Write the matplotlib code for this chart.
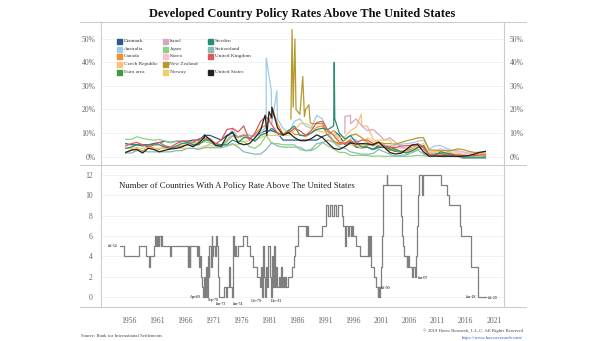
import numpy as np
import matplotlib
matplotlib.use("Agg")
from matplotlib import pyplot as plt
from matplotlib.lines import Line2D

plt.rcParams['font.family'] = ['Liberation Serif', 'DejaVu Serif']

# ---- top panel: policy rates (%), annual readings, own start year per country
denmark_start = 1955
denmark = [5.5, 5.0, 5.0, 5.0, 5.0, 5.5, 6.0, 6.5, 6.0, 6.5, 6.5, 6.5, 7.0, 7.0, 9.0, 9.0, 8.0, 7.0, 9.0, 10.0,
           8.0, 9.0, 9.0, 8.5, 10.0, 11.0, 11.0, 10.0, 7.0, 7.0, 7.0, 7.0, 7.0, 7.0, 7.0, 8.5, 9.5, 11.0, 9.0, 5.0,
           6.0, 4.0, 3.7, 4.0, 3.0, 4.8, 4.0, 3.0, 2.2, 2.0, 2.2, 3.2, 4.0, 4.5, 1.5, 1.0, 0.8, 0.2, 0.2, 0.2,
           -0.6, -0.65, -0.65, -0.65, -0.7]
australia_start = 1969
australia = [4.0, 5.5, 5.5, 4.0, 6.0, 12.0, 8.0, 8.5, 9.0, 8.5, 9.5, 13.0, 14.0, 16.0, 12.0, 10.0, 15.0, 16.0,
             13.0, 12.0, 17.5, 16.0, 10.5, 6.5, 5.0, 5.5, 7.5, 7.0, 5.0, 4.8, 4.8, 6.0, 4.8, 4.5, 4.8, 5.25,
             5.5, 5.8, 6.5, 7.0, 3.2, 4.5, 4.75, 3.5, 2.75, 2.5, 2.0, 1.5, 1.5, 1.5, 1.0]
australia_spike_years = [1980.5, 1981.4, 1982.4]
australia_spike_rates = [42.0, 28.0, 28.0]
canada_start = 1955
canada = [1.5, 2.8, 3.8, 2.0, 4.5, 3.5, 3.0, 4.5, 3.8, 4.0, 4.5, 5.0, 4.5, 6.5, 7.5, 6.5, 5.0, 4.75, 6.5, 8.75,
          8.5, 9.25, 7.5, 9.5, 12.0, 13.5, 17.5, 14.0, 9.5, 11.3, 9.5, 9.2, 8.4, 10.0, 12.5, 13.0, 9.0, 6.5,
          5.0, 5.8, 7.0, 4.5, 3.5, 5.0, 5.0, 5.8, 4.0, 2.5, 3.0, 2.3, 2.7, 4.2, 4.5, 3.0, 0.3, 0.6, 1.0, 1.0,
          1.0, 1.0, 0.6, 0.5, 0.8, 1.5, 1.75]
canada_spike_years = [1981.6]
canada_spike_rates = [20.5]
czech_start = 1992
czech = [9.5, 8.0, 8.5, 11.0, 12.5, 13.0, 13.0, 7.5, 5.25, 5.0, 3.5, 2.5, 2.25, 2.0, 2.25, 3.0, 3.5, 1.5,
         0.75, 0.75, 0.5, 0.05, 0.05, 0.05, 0.05, 0.25, 1.25, 2.0]
czech_spike_years = [1997.4]
czech_spike_rates = [18.0]
euro_start = 1999
euro = [3.0, 4.25, 4.0, 3.25, 2.25, 2.0, 2.1, 3.0, 4.0, 4.0, 1.0, 1.0, 1.4, 0.75, 0.5, 0.1, 0.05, 0.0, 0.0,
        0.0, 0.0]
israel_start = 1994
israel = [10.0, 14.0, 16.0, 13.0, 11.0, 11.5, 9.5, 7.0, 8.0, 6.0, 4.0, 3.5, 5.0, 4.0, 3.5, 0.5, 1.5, 3.25,
          2.5, 1.5, 0.5, 0.1, 0.1, 0.1, 0.1, 0.25]
israel_spike_years = [1994.5, 1995.5]
israel_spike_rates = [17.0, 17.5]
japan_start = 1955
japan = [7.3, 7.3, 8.4, 7.7, 7.3, 6.9, 7.3, 6.6, 5.8, 6.6, 5.5, 5.5, 5.8, 5.8, 6.25, 6.0, 4.75, 4.25, 7.0,
         9.0, 6.5, 6.5, 4.25, 3.5, 5.25, 9.0, 5.5, 5.5, 5.0, 5.0, 5.0, 3.0, 2.5, 2.5, 3.75, 6.0, 4.5, 3.25,
         1.75, 1.75, 0.5, 0.5, 0.5, 0.4, 0.1, 0.25, 0.1, 0.1, 0.1, 0.1, 0.1, 0.25, 0.5, 0.3, 0.1, 0.1, 0.1,
         0.1, 0.1, 0.1, 0.1, -0.1, -0.1, -0.1, -0.1]
korea_start = 1999
korea = [4.75, 5.0, 4.0, 4.25, 3.75, 3.5, 3.5, 4.5, 5.0, 4.0, 2.0, 2.25, 3.25, 2.75, 2.5, 2.0, 1.5, 1.25,
         1.5, 1.75, 1.25]
nz_start = 1986
nz = [18.0, 20.0, 14.0, 14.0, 14.0, 9.0, 6.5, 5.5, 7.0, 9.0, 9.5, 8.0, 6.0, 4.5, 6.0, 5.5, 5.5, 5.25, 6.0,
      6.75, 7.25, 8.0, 8.0, 2.75, 2.75, 2.5, 2.5, 2.5, 3.25, 3.0, 2.25, 1.75, 1.75, 1.25]
nz_spike_years = [1984.9, 1985.1, 1985.3, 1985.6, 1985.8, 1987.0, 1987.3, 1988.1, 1988.3]
nz_spike_rates = [16.0, 54.0, 21.0, 50.0, 20.0, 34.0, 17.0, 22.0, 15.0]
norway_start = 1955
norway = [3.5, 3.5, 3.5, 3.5, 3.5, 3.5, 3.5, 3.5, 3.5, 3.5, 3.5, 3.5, 3.5, 3.5, 4.5, 4.5, 4.5, 4.5, 4.5,
          5.0, 5.0, 6.0, 7.0, 7.0, 8.0, 9.0, 9.0, 9.0, 9.0, 9.0, 11.0, 14.0, 14.0, 13.0, 11.0, 10.5, 10.0,
          11.0, 7.0, 5.5, 5.0, 5.0, 3.5, 8.0, 6.5, 7.0, 7.0, 7.0, 3.0, 1.75, 2.0, 3.0, 4.75, 5.5, 1.5, 2.0,
          2.25, 1.5, 1.5, 1.5, 0.75, 0.5, 0.5, 0.6, 1.4]
sweden_start = 1955
sweden = [3.5, 4.0, 5.0, 4.5, 5.0, 5.0, 5.0, 4.0, 3.5, 4.5, 5.5, 6.0, 5.0, 5.0, 7.0, 7.0, 5.5, 5.0, 5.0,
          7.0, 6.0, 8.0, 8.0, 6.5, 9.0, 10.0, 12.0, 10.0, 9.0, 11.0, 13.0, 9.0, 9.0, 10.0, 11.5, 12.0, 11.5,
          13.0, 10.0, 7.5, 8.9, 6.0, 4.1, 4.0, 3.0, 3.75, 4.0, 4.0, 3.0, 2.0, 1.5, 2.5, 3.75, 4.5, 0.5, 0.5,
          2.0, 1.5, 1.0, 0.25, -0.35, -0.5, -0.5, -0.5, -0.25]
sweden_spike_years = [1992.6, 1992.7]
sweden_spike_rates = [40.0, 16.0]
swiss_start = 1955
swiss = [1.5, 1.5, 2.5, 2.5, 2.0, 2.0, 2.0, 2.0, 2.0, 2.5, 2.5, 3.5, 3.5, 3.0, 3.75, 3.75, 3.75, 3.75, 4.5,
         5.5, 4.0, 2.0, 1.5, 1.0, 1.0, 3.0, 6.0, 4.5, 4.0, 4.0, 4.0, 4.0, 2.5, 3.0, 5.5, 6.0, 7.0, 6.0, 4.0,
         3.5, 2.0, 1.5, 1.0, 1.0, 1.25, 3.0, 2.0, 1.0, 0.25, 0.5, 0.75, 1.75, 2.75, 1.0, 0.25, 0.25, 0.0,
         0.0, 0.0, 0.0, -0.75, -0.75, -0.75, -0.75, -0.75]
uk_start = 1955
uk = [4.5, 5.5, 6.0, 5.0, 4.0, 5.0, 6.0, 4.5, 4.0, 5.5, 6.5, 6.5, 6.0, 7.5, 8.0, 7.5, 5.5, 7.0, 11.5, 12.0,
      10.5, 13.0, 7.0, 10.0, 15.0, 17.0, 13.5, 10.0, 9.5, 10.0, 12.0, 11.0, 9.0, 11.0, 14.5, 15.0, 11.0,
      9.0, 6.0, 5.5, 6.5, 6.0, 7.0, 7.0, 5.5, 6.0, 4.5, 4.0, 3.75, 4.5, 4.6, 4.8, 5.5, 4.0, 0.5, 0.5, 0.5,
      0.5, 0.5, 0.5, 0.5, 0.25, 0.4, 0.7, 0.75]
us_start = 1955
us = [1.8, 2.7, 3.0, 1.5, 3.5, 3.0, 2.0, 2.7, 3.2, 3.5, 4.1, 5.1, 4.2, 5.7, 8.2, 7.2, 4.7, 4.4, 8.7, 10.5,
      5.8, 5.0, 5.5, 7.9, 11.2, 13.4, 16.4, 12.3, 9.1, 10.2, 8.1, 6.8, 6.7, 7.6, 9.2, 8.1, 5.7, 3.5, 3.0,
      4.2, 5.8, 5.3, 5.5, 5.4, 5.0, 6.2, 3.9, 1.7, 1.1, 1.4, 3.2, 5.0, 5.0, 1.9, 0.16, 0.18, 0.1, 0.14,
      0.11, 0.09, 0.13, 0.4, 1.0, 1.8, 2.2]
us_spike_years = [1969.5, 1980.3, 1980.6, 1981.0, 1981.5]
us_spike_rates = [9.2, 17.6, 9.0, 19.1, 21.0]

# ---- bottom panel: number of countries above US (step change points)
count_years = [1954.5, 1955.2, 1957.9, 1959.1, 1959.7, 1959.9, 1960.6, 1960.7, 1960.9, 1961.1, 1961.3,
               1961.5, 1961.7, 1961.8, 1962.0, 1963.4, 1963.6, 1966.5, 1966.6, 1966.7, 1966.8, 1966.9,
               1967.0, 1968.1, 1968.3, 1968.5, 1968.7, 1968.9, 1969.1, 1969.3, 1969.5, 1969.6, 1969.8,
               1970.0, 1970.1, 1970.3, 1970.4, 1970.6, 1970.8, 1970.9, 1971.1, 1971.4, 1971.6, 1971.8,
               1971.95, 1972.1, 1972.9, 1973.3, 1973.45, 1973.9, 1974.1, 1974.4, 1974.55, 1974.65,
               1974.8, 1975.0, 1975.2, 1975.4, 1976.4, 1977.1, 1977.6, 1978.2, 1978.9, 1979.4, 1979.55,
               1979.7, 1979.9, 1980.1, 1980.3, 1980.5, 1980.7, 1980.9, 1981.1, 1981.3, 1981.5, 1981.7,
               1981.9, 1982.1, 1982.3, 1982.5, 1982.7, 1982.9, 1983.1, 1983.3, 1983.5, 1983.7, 1983.9,
               1984.1, 1984.3, 1984.5, 1985.0, 1985.4, 1985.7, 1986.2, 1987.6, 1987.8, 1988.0, 1990.4,
               1991.1, 1991.5, 1991.8, 1992.2, 1992.6, 1993.0, 1993.3, 1994.0, 1994.2, 1994.5, 1994.7,
               1995.0, 1995.2, 1995.5, 1995.7, 1995.9, 1996.5, 1997.2, 1998.6, 1998.7, 1998.8, 1998.9,
               1999.0, 1999.1, 1999.2, 1999.6, 2000.1, 2000.3, 2000.4, 2000.6, 2000.8, 2001.0, 2001.1,
               2001.2, 2001.3, 2001.95, 2002.05, 2004.4, 2004.55, 2004.7, 2004.85, 2005.0, 2005.5,
               2005.6, 2005.7, 2005.8, 2005.9, 2006.4, 2006.6, 2006.9, 2007.2, 2007.35, 2007.5, 2007.65,
               2008.25, 2008.35, 2011.6, 2012.6, 2013.1, 2014.9, 2015.2, 2016.9, 2018.2, 2019.6]
count_values = [5, 4, 5, 4, 3, 4, 5, 6, 5, 6, 5,
                6, 5, 6, 5, 4, 5, 3, 5, 3, 5, 3,
                5, 4, 5, 3, 4, 2, 1, 0, 2, 0, 3,
                0, 4, 2, 5, 3, 6, 4, 5, 4, 6, 5,
                2, 0, 1, 0, 1, 3, 1, 0, 4, 6,
                4, 5, 4, 5, 6, 5, 4, 3, 2, 1, 3,
                0, 5, 2, 0, 3, 1, 5, 2, 0, 4, 1,
                5, 1, 3, 1, 2, 1, 3, 1, 2, 1, 2,
                1, 2, 2, 3, 4, 5, 7, 6, 7, 6, 7,
                9, 8, 9, 8, 9, 8, 9, 8, 7, 5, 7,
                6, 7, 6, 7, 6, 5, 4, 6, 4, 6, 4,
                6, 4, 3, 2, 1, 0, 1, 0, 1, 3, 6,
                9, 11, 12, 11, 10, 8, 6, 5, 4, 3,
                4, 3, 4, 3, 2, 3, 2, 4, 7, 10, 12,
                10, 12, 11, 10, 9, 7, 6, 3, 0, 0]

# labelled points on the count line: text, year, value
note_text = ["Jul-54", "Apr-69", "Sep-70", "Jan-73", "Jan-74", "Oct-79", "Dec-81",
             "Jul-00", "Jun-07", "Jun-18", "Jul-20"]
note_year = [1954.5, 1969.3, 1970.0, 1973.3, 1974.4, 1979.7, 1981.3,
             2000.6, 2007.2, 2018.2, 2019.6]
note_value = [5, 0, 0, 0, 0, 0, 0, 1, 2, 0, 0]

year_ticks = list(range(1956, 2022, 5))


def series(start, vals, sx=(), sy=()):
    x = list(np.arange(start, start + len(vals)) + 0.5) + list(sx)
    y = list(vals) + list(sy)
    order = np.argsort(x)
    return np.array(x)[order], np.array(y)[order]


entries = [
    ("Denmark", "#2d5b88", series(denmark_start, denmark)),
    ("Australia", "#a0cbe8", series(australia_start, australia, australia_spike_years, australia_spike_rates)),
    ("Canada", "#f28e2b", series(canada_start, canada, canada_spike_years, canada_spike_rates)),
    ("Czech Republic", "#ffbe7d", series(czech_start, czech, czech_spike_years, czech_spike_rates)),
    ("Euro area", "#3f9b3f", series(euro_start, euro)),
    ("Israel", "#d4a6c8", series(israel_start, israel, israel_spike_years, israel_spike_rates)),
    ("Japan", "#8cd17d", series(japan_start, japan)),
    ("Korea", "#fabfd2", series(korea_start, korea)),
    ("New Zealand", "#b6992d", series(nz_start, nz, nz_spike_years, nz_spike_rates)),
    ("Norway", "#f1ce63", series(norway_start, norway)),
    ("Sweden", "#2a8c74", series(sweden_start, sweden, sweden_spike_years, sweden_spike_rates)),
    ("Switzerland", "#86bcb6", series(swiss_start, swiss)),
    ("United Kingdom", "#e15759", series(uk_start, uk)),
    (None, None, None),
    ("United States", "#222222", series(us_start, us, us_spike_years, us_spike_rates)),
]

fig = plt.figure(figsize=(6.05, 3.41), dpi=100)
ax1 = fig.add_axes([0.1669, 0.5161, 0.6661, 0.4194])
ax2 = fig.add_axes([0.1669, 0.0997, 0.6661, 0.4164])

grey = "#cccccc"
tick_col = "#666666"
xlim = (1951.1, 2022.8)

for name, col, data in entries:
    if name is None:
        continue
    ax1.plot(data[0], data[1], color=col, lw=0.9)

ax1.set_xlim(*xlim)
ax1.set_ylim(-3.6, 57.2)
ax1.set_yticks([0, 10, 20, 30, 40, 50])
ax1.set_yticklabels([f"{v}%" for v in [0, 10, 20, 30, 40, 50]])
ax1.tick_params(axis='y', length=0, labelsize=5.5, colors=tick_col, labelleft=True, labelright=True, pad=4)
ax1.tick_params(axis='x', length=0, labelbottom=False)
ax1.grid(axis='y', color="#f0f0f0", lw=0.6)
ax1.set_axisbelow(True)

# manual legend, 3 columns x 5 rows
for i, (name, col, data) in enumerate(entries):
    if name is None:
        continue
    c, r = divmod(i, 5)
    lx = 0.045 + c * 0.113
    ly = 0.865 - r * 0.053
    ax1.plot([lx], [ly], marker='s', ms=3.6, color=col, transform=ax1.transAxes, clip_on=False)
    ax1.text(lx + 0.012, ly, name, fontsize=3.8, va='center', ha='left', transform=ax1.transAxes,
             color="#333333")

ax2.step(count_years, count_values, where='post', color="#7f7f7f", lw=0.9)
ax2.set_xlim(*xlim)
ax2.set_ylim(-0.98, 12.98)
ax2.set_yticks([0, 2, 4, 6, 8, 10, 12])
ax2.tick_params(axis='y', length=0, labelsize=5.5, colors=tick_col, pad=6)
ax2.set_xticks(year_ticks)
ax2.tick_params(axis='x', length=0, labelsize=5.5, colors=tick_col, pad=7)
ax2.grid(axis='y', color="#f0f0f0", lw=0.6)
ax2.set_axisbelow(True)
ax2.text(0.045, 0.855, "Number of Countries With A Policy Rate Above The United States",
         transform=ax2.transAxes, fontsize=6.3, color="#222222", va='center')

# (ha, x offset, y offset, va) per note
note_style = {
    "Jul-54": ('right', -1.5, 0, 'center'),
    "Apr-69": ('right', -1.5, 0, 'center'),
    "Jun-18": ('right', -1.5, 0, 'center'),
    "Sep-70": ('left', 0.5, -1, 'top'),
    "Jan-73": ('right', 0.5, -3.5, 'top'),
    "Jan-74": ('left', 0.5, -3.5, 'top'),
    "Oct-79": ('right', 0, -1.5, 'top'),
    "Dec-81": ('left', 0.5, -1.5, 'top'),
}
for t, yr, v in zip(note_text, note_year, note_value):
    ha, dx, dy, va = note_style.get(t, ('left', 1.5, -1, 'center'))
    ax2.annotate(t, (yr, v), xytext=(dx, dy), textcoords='offset points', ha=ha, va=va, fontsize=2.8)

for ax in (ax1, ax2):
    for s in ("top", "bottom"):
        ax.spines[s].set_visible(False)
    for s in ("left", "right"):
        ax.spines[s].set_color(grey)
        ax.spines[s].set_linewidth(0.8)

# separator rules across the figure
for yy in (1 - 22 / 341, 1 - 165 / 341, 1 - 307 / 341):
    fig.add_artist(Line2D([80 / 605, 526 / 605], [yy, yy], color=grey, lw=0.8))

fig.text(0.5, 1 - 14 / 341, "Developed Country Policy Rates Above The United States",
         ha='center', va='center', fontsize=9, fontweight='bold', color="#111111")
fig.text(81 / 605, 1 - 336 / 341, "Source: Bank for International Settlements", fontsize=3.4,
         color="#444444", va='center')
fig.text(523 / 605, 1 - 331 / 341, "© 2019 Haver Research, L.L.C. All Rights Reserved", fontsize=3.4,
         color="#444444", va='center', ha='right')
fig.text(523 / 605, 1 - 338 / 341, "https://www.haverresearch.com/", fontsize=3.4,
         color="#3355cc", va='center', ha='right')

fig.savefig("out.png", dpi=100)
